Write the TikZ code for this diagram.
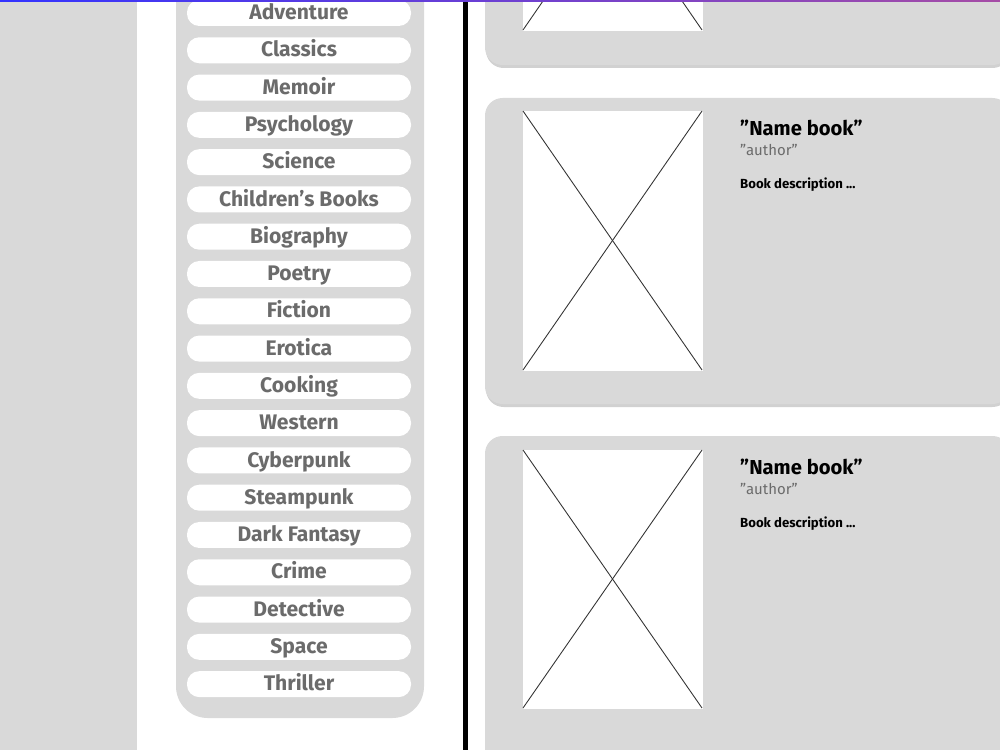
\documentclass[tikz,border=0pt]{standalone}
\usepackage{fontspec}
\setmainfont{Fira Sans}
\definecolor{panelgray}{HTML}{D9D9D9}
\definecolor{textgray}{HTML}{6B6B6B}
\tikzset{
  genre/.style={fill=white, rounded corners=7, minimum width=224*0.02cm, minimum height=26*0.02cm,
    inner sep=0pt, text height=1.85ex, text depth=0.4ex, text=textgray,
    font=\fontsize{12}{14}\selectfont\bfseries},
  card/.style={fill=panelgray, rounded corners=10},
  cover/.style={fill=white, draw=white},
}
\begin{document}
\begin{tikzpicture}[x=0.02cm, y=-0.02cm]
    \useasboundingbox (0,0) rectangle (1000,750);
    % left band and genre panel
    \fill[panelgray] (0,-5) rectangle (137,755);
    \fill[panelgray, rounded corners=18] (176,-30) rectangle (424,718);
    \foreach \g [count=\i from 0] in {Adventure,Classics,Memoir,Psychology,Science,Children's Books,Biography,Poetry,Fiction,Erotica,Cooking,Western,Cyberpunk,Steampunk,Dark Fantasy,Crime,Detective,Space,Thriller}
        \node[genre] (g\i) at (299,13+37.285*\i) {\g};
    % divider
    \fill[black] (463,-5) rectangle (468,755);
    % cards
    \foreach \top/\bot/\n in {-60/65/a,98/404/b,436/790/c}{
        \fill[black!18, rounded corners=10] (486,\top+3) rectangle (1010,\bot+3);
        \fill[card] (485,\top) rectangle (1010,\bot);
    }
    \foreach \top/\bot/\n in {-230/30/a,111/370/b,450/708/c}{
        \fill[cover] (523,\top) rectangle (702,\bot);
        \coordinate (tl\n) at (523,\top);
        \coordinate (br\n) at (702,\bot);
        \draw[black!80, line width=0.5pt] (tl\n) -- (br\n);
        \draw[black!80, line width=0.5pt] (tl\n -| br\n) -- (br\n -| tl\n);
    }
    \foreach \y/\n in {128/b,467/c}{
        \node[anchor=west, font=\fontsize{11.5}{14}\selectfont\bfseries] (name\n) at (734,\y) {"Name book"};
        \node[anchor=west, text=textgray, font=\fontsize{8.5}{10}\selectfont] (auth\n) at (734,\y+22) {"author"};
        \node[anchor=west, font=\fontsize{7.5}{9}\selectfont\bfseries] (desc\n) at (734,\y+57) {Book description ...};
    }
    % top strip
    \shade[left color=blue!80, right color=violet!70] (0,0) rectangle (1000,2);
\end{tikzpicture}
\end{document}
